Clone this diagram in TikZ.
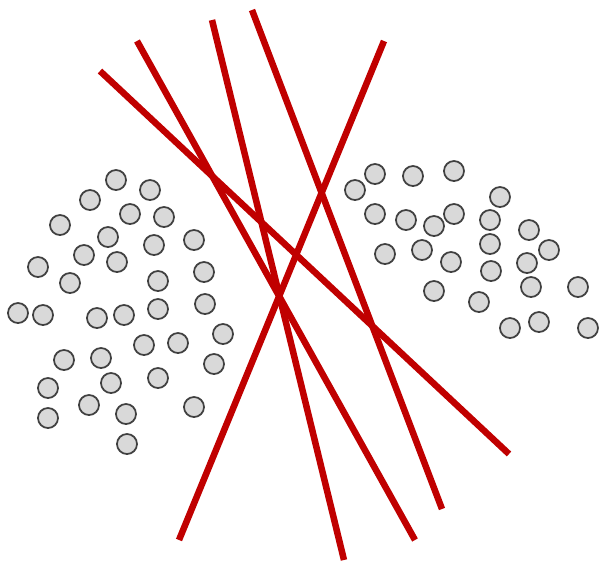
\documentclass[tikz,border=0pt]{standalone}
\usepackage{tikz}
\usepackage{xcolor}
\definecolor{cut}{HTML}{C00000}
\definecolor{dotfill}{HTML}{D9D9D9}
\definecolor{dotline}{HTML}{404040}

\begin{document}
\begin{tikzpicture}[x=0.01cm,y=-0.01cm]
   \tikzstyle{pt}=[circle,draw=dotline,fill=dotfill,line width=0.5pt,minimum size=0.2cm,inner sep=0pt];
   \tikzstyle{cutline}=[draw=cut,line width=0.065cm];
   \useasboundingbox (0,0) rectangle (599,563);
   % left group
   \foreach \x/\y [count=\i] in {116/180, 150/190, 90/200, 130/214, 164/217, 60/225,
      108/237, 154/245, 194/240, 84/255, 117/262, 38/267, 70/283, 158/281, 204/272,
      18/313, 43/315, 97/318, 124/315, 158/309, 205/304, 223/334, 144/345, 178/343,
      64/360, 101/358, 214/364, 48/388, 111/383, 158/378, 89/405, 126/414, 194/407,
      48/418, 127/444}
      \node[pt] (a\i) at (\x,\y) {};
   % right group
   \foreach \x/\y [count=\i] in {375/174, 413/176, 454/171, 355/190, 500/197, 375/214,
      406/220, 434/226, 454/214, 490/220, 529/230, 490/244, 549/250, 385/254, 422/250,
      451/262, 491/271, 527/263, 531/287, 578/287, 434/291, 479/302, 510/328, 539/322,
      588/328}
      \node[pt] (b\i) at (\x,\y) {};
   % separating lines
   \coordinate (s1) at (100,71);  \coordinate (e1) at (509,454);
   \coordinate (s2) at (137,41);  \coordinate (e2) at (415,540);
   \coordinate (s3) at (212,20);  \coordinate (e3) at (344,560);
   \coordinate (s4) at (252,10);  \coordinate (e4) at (442,509);
   \coordinate (s5) at (384,41);  \coordinate (e5) at (179,540);
   \foreach \i in {1,...,5}
      \draw[cutline] (s\i) -- (e\i);
\end{tikzpicture}
\end{document}
